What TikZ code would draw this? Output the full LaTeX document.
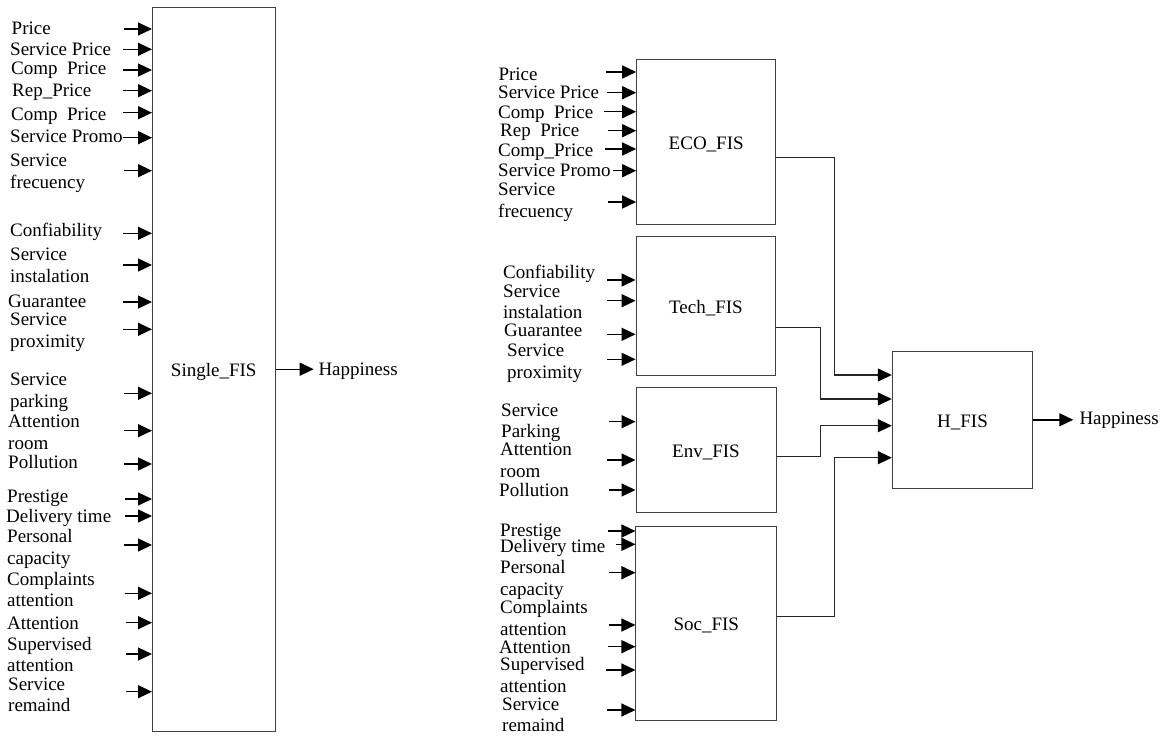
\documentclass[tikz,border=0pt]{standalone}
\usepackage{fontspec}
\setmainfont{Liberation Serif}
\usetikzlibrary{arrows.meta}
\newcommand\twoline[2]{#1\strut\\#2\strut}
\begin{document}
\begin{tikzpicture}[x=1pt,y=-1pt,
  every node/.style={font=\fontsize{19}{21.7}\selectfont},
  lbl/.style={anchor=west, align=left, inner sep=0pt, execute at begin node=\strut},
  fis/.style={draw=black!75, line width=1pt, rectangle, inner sep=0pt, text height=14.6pt, text depth=0pt},
  inarr/.style={line width=1.4pt, -{Triangle[length=14pt,width=13pt]}},
  conn/.style={draw=black!85, line width=1.2pt, -{Triangle[length=14pt,width=13pt,color=black,fill=black]}}]
\useasboundingbox (0,0) rectangle (1162,736);

% ---------- boxes ----------
\node[fis, minimum width=122.5pt, minimum height=723.7pt] (single) at (213.75,369.2) {Single\_FIS};
\node[fis, minimum width=139pt, minimum height=165pt] (eco) at (706.2,141.8) {ECO\_FIS};
\node[fis, minimum width=139.7pt, minimum height=138.3pt] (tech) at (705.9,305.9) {Tech\_FIS};
\node[fis, minimum width=140pt, minimum height=125pt] (env) at (706,449.8) {Env\_FIS};
\node[fis, minimum width=140.7pt, minimum height=194pt] (soc) at (706.3,623) {Soc\_FIS};
\node[fis, minimum width=140.4pt, minimum height=137pt] (hfis) at (962.5,419.8) {H\_FIS};

% ---------- left labels ----------
\node[lbl] (l1) at (11.5,29.7) {Price};
\node[lbl] (l2) at (10,50.7) {Service Price};
\node[lbl] (l3) at (11,69.7) {Comp\ \ Price};
\node[lbl] (l4) at (12,91.7) {Rep\_Price};
\node[lbl] (l5) at (11,116.4) {Comp\ \ Price};
\node[lbl] (l6) at (10,138.4) {Service Promo};
\node[lbl] (l7) at (10,173.2) {\twoline{Service}{frecuency}};
\node[lbl] (l8) at (10,232.4) {Confiability};
\node[lbl] (l9) at (10,266.9) {\twoline{Service}{instalation}};
\node[lbl] (l10) at (8,303) {Guarantee};
\node[lbl] (l11) at (10,331.9) {\twoline{Service}{proximity}};
\node[lbl] (l12) at (10,392.2) {\twoline{Service}{parking}};
\node[lbl] (l13) at (8,433.9) {\twoline{Attention}{room}};
\node[lbl] (l14) at (8,464) {Pollution};
\node[lbl] (l15) at (7,498.4) {Prestige};
\node[lbl] (l16) at (6,518) {Delivery time};
\node[lbl] (l17) at (7,549.5) {\twoline{Personal}{capacity}};
\node[lbl] (l18) at (7,591.6) {\twoline{Complaints}{attention}};
\node[lbl] (l19) at (7,624.7) {Attention};
\node[lbl] (l20) at (7,656.6) {\twoline{Supervised}{attention}};
\node[lbl] (l21) at (8,696.6) {\twoline{Service}{remaind}};

% ---------- right labels ----------
\node[lbl] (r1) at (498.3,76.4) {Price};
\node[lbl] (r2) at (498,94) {Service Price};
\node[lbl] (r3) at (498,114) {Comp\ \ Price};
\node[lbl] (r4) at (500,131.7) {Rep\ \ Price};
\node[lbl] (r5) at (498,151.7) {Comp\_Price};
\node[lbl] (r6) at (498,172.4) {Service Promo};
\node[lbl] (r7) at (498,202.4) {\twoline{Service}{frecuency}};
\node[lbl] (r8) at (503,274) {Confiability};
\node[lbl] (r9) at (503,303.7) {\twoline{Service}{instalation}};
\node[lbl] (r10) at (504,331.7) {Guarantee};
\node[lbl] (r11) at (507,363.2) {\twoline{Service}{proximity}};
\node[lbl] (r12) at (501,422.7) {\twoline{Service}{Parking}};
\node[lbl] (r13) at (500,462.2) {\twoline{Attention}{room}};
\node[lbl] (r14) at (499,492.4) {Pollution};
\node[lbl] (r15) at (500,532.4) {Prestige};
\node[lbl] (r16) at (500,548) {Delivery time};
\node[lbl] (r17) at (500,579.9) {\twoline{Personal}{capacity}};
\node[lbl] (r18) at (500,620.4) {\twoline{Complaints}{attention}};
\node[lbl] (r19) at (499,649) {Attention};
\node[lbl] (r20) at (500,676.9) {\twoline{Supervised}{attention}};
\node[lbl] (r21) at (502,716.6) {\twoline{Service}{remaind}};

% ---------- outputs ----------
\node[lbl, inner xsep=4.6pt] (hap1) at (313.7,370.7) {Happiness};
\node[lbl, inner xsep=6pt] (hap2) at (1073.3,420) {Happiness};
\draw[inarr] (single.east) -- (single.east -| hap1.west);
\draw[inarr] (hfis.east) -- (hfis.east -| hap2.west);

% ---------- input arrows ----------
\foreach \y/\l in {29/28.5,49.3/29.5,70/29.5,90.7/29.5,112.7/29.5,137.7/29.5,170.7/28.5,233.3/29.5,265/29.5,302/29,329.3/29.5,393.3/28,430.7/28,464/28.5,499/27.5,516/27.5,545/28,593.3/27.5,622.7/26,654/26,691.7/26}{
  \path (single.west |- 0,\y) coordinate (t);
  \draw[inarr] ([xshift=-\l pt]t) -- (t);
}
\foreach \y/\l in {72/30,92.7/29,111.7/32,130.7/28,149/31,170.7/23,202/28}{
  \path (eco.west |- 0,\y) coordinate (t);
  \draw[inarr] ([xshift=-\l pt]t) -- (t);
}
\foreach \y/\l in {280/29,300.7/29,334.3/29,359.3/29}{
  \path (tech.west |- 0,\y) coordinate (t);
  \draw[inarr] ([xshift=-\l pt]t) -- (t);
}
\foreach \y/\l in {421.7/27,460/29,490/27}{
  \path (env.west |- 0,\y) coordinate (t);
  \draw[inarr] ([xshift=-\l pt]t) -- (t);
}
\foreach \y/\l in {531/27,544.3/19,572.7/26,625/26,646.7/27,670/29,710/28}{
  \path (soc.west |- 0,\y) coordinate (t);
  \draw[inarr] ([xshift=-\l pt]t) -- (t);
}

% ---------- connectors to H_FIS ----------
\draw[conn] ([yshift=-15.9pt]eco.east) -- ++(58pt,0) |- ([yshift=44.8pt]hfis.west);
\draw[conn] ([yshift=-21.4pt]tech.east) -- ++(44pt,0) |- ([yshift=20.8pt]hfis.west);
\draw[conn] ([yshift=-6.9pt]env.east) -- ++(43.7pt,0) |- ([yshift=-5.9pt]hfis.west);
\draw[conn] ([yshift=6.3pt]soc.east) -- ++(57.3pt,0) |- ([yshift=-37.9pt]hfis.west);
\end{tikzpicture}
\end{document}
